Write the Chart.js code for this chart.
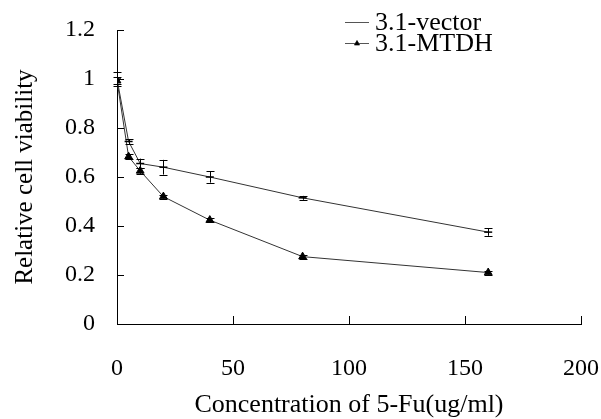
<!DOCTYPE html>
<html>
<head>
<meta charset="utf-8">
<script src="https://cdn.jsdelivr.net/npm/chart.js@4.4.1/dist/chart.umd.min.js"></script>
<style>
  html, body { margin: 0; padding: 0; background: #fff; }
</style>
</head>
<body>
<canvas id="chart" width="601" height="419"></canvas>
<script>
// Data
let concentrations = [0, 5, 10, 20, 40, 80, 160];
let vectorValues = [1.0, 0.745, 0.655, 0.64, 0.60, 0.515, 0.375];
let vectorErrors = [0.03, 0.01, 0.02, 0.03, 0.023, 0.008, 0.015];
let mtdhValues = [0.993, 0.683, 0.625, 0.52, 0.424, 0.275, 0.21];
let mtdhErrors = [0.015, 0.01, 0.012, 0.008, 0.008, 0.008, 0.008];
let seriesLabels = ["3.1-vector", "3.1-MTDH"];

let serif = "'Liberation Serif', 'Times New Roman', serif";

function toPoints(values) {
    return concentrations.map((x, i) => ({ x: x, y: values[i] }));
}

// Error bars
let errorBars = {
    id: "errorBars",
    afterDatasetsDraw(chart) {
        let ctx = chart.ctx;
        let xs = chart.scales.x;
        let ys = chart.scales.y;
        let errs = [vectorErrors, mtdhErrors];
        ctx.save();
        ctx.strokeStyle = "#000";
        ctx.lineWidth = 1;
        chart.data.datasets.forEach((ds, d) => {
            ds.data.forEach((p, i) => {
                let px = Math.round(xs.getPixelForValue(p.x)) + 0.5;
                let top = ys.getPixelForValue(p.y + errs[d][i]);
                let bot = ys.getPixelForValue(p.y - errs[d][i]);
                ctx.beginPath();
                ctx.moveTo(px, top);
                ctx.lineTo(px, bot);
                ctx.moveTo(px - 4, Math.round(top) + 0.5);
                ctx.lineTo(px + 4, Math.round(top) + 0.5);
                ctx.moveTo(px - 4, Math.round(bot) + 0.5);
                ctx.lineTo(px + 4, Math.round(bot) + 0.5);
                ctx.stroke();
            });
        });
        ctx.restore();
    }
};

// Inward tick marks
let innerTicks = {
    id: "innerTicks",
    afterDraw(chart) {
        let ctx = chart.ctx;
        let xs = chart.scales.x;
        let ys = chart.scales.y;
        let area = chart.chartArea;
        ctx.save();
        ctx.strokeStyle = "#000";
        ctx.lineWidth = 1;
        ctx.beginPath();
        ys.ticks.forEach(t => {
            let py = Math.round(ys.getPixelForValue(t.value)) + 0.5;
            ctx.moveTo(area.left, py);
            ctx.lineTo(area.left + 7, py);
        });
        xs.ticks.forEach(t => {
            if (t.value === 0) return;
            let px = Math.round(xs.getPixelForValue(t.value)) + 0.5;
            ctx.moveTo(px, area.bottom);
            ctx.lineTo(px, area.bottom - 8);
        });
        ctx.stroke();
        ctx.restore();
    }
};

// Legend in the top right
let cornerLegend = {
    id: "cornerLegend",
    afterDraw(chart) {
        let ctx = chart.ctx;
        ctx.save();
        ctx.font = "26px " + serif;
        ctx.textBaseline = "middle";
        ctx.fillStyle = "#000";
        let rows = [22, 43];
        chart.data.datasets.forEach((ds, i) => {
            let y = rows[i] + 0.5;
            ctx.strokeStyle = "#555";
            ctx.lineWidth = 1;
            ctx.beginPath();
            ctx.moveTo(345, y);
            ctx.lineTo(369, y);
            ctx.stroke();
            Chart.helpers.drawPoint(ctx, {
                pointStyle: ds.pointStyle,
                radius: 3,
                borderWidth: 1
            }, 357, y);
            ctx.fillStyle = "#000";
            ctx.strokeStyle = "#000";
            if (ds.pointStyle === "triangle") ctx.fill();
            ctx.fillText(ds.label, 375, rows[i] + 1);
        });
        ctx.restore();
    }
};

let chart = new Chart(document.getElementById("chart"), {
    type: "line",
    data: {
        datasets: [
            {
                label: seriesLabels[0],
                data: toPoints(vectorValues),
                borderColor: "#333",
                borderWidth: 1,
                pointStyle: "line",
                pointRadius: 4,
                pointBorderColor: "#000",
                pointBorderWidth: 1.5,
                pointBackgroundColor: "#000",
                tension: 0
            },
            {
                label: seriesLabels[1],
                data: toPoints(mtdhValues),
                borderColor: "#333",
                borderWidth: 1,
                pointStyle: "triangle",
                pointRadius: 4.5,
                pointBorderColor: "#000",
                pointBorderWidth: 1,
                pointBackgroundColor: "#000",
                tension: 0
            }
        ]
    },
    options: {
        responsive: false,
        animation: false,
        devicePixelRatio: 1,
        layout: { padding: { top: 30, right: 20, left: 0, bottom: 0 } },
        plugins: {
            legend: { display: false },
            tooltip: { enabled: false }
        },
        scales: {
            x: {
                type: "linear",
                min: 0,
                max: 200,
                afterFit(scale) {
                    scale.height = 95;
                    scale.paddingLeft = 0;
                    scale.paddingRight = 0;
                },
                ticks: {
                    stepSize: 50,
                    color: "#000",
                    padding: 30,
                    font: { family: serif, size: 24 }
                },
                grid: { drawOnChartArea: false, drawTicks: false },
                border: { color: "#000", width: 1 },
                title: {
                    display: true,
                    text: "Concentration of 5-Fu(ug/ml)",
                    color: "#000",
                    font: { family: serif, size: 26 },
                    padding: { top: 0, bottom: -2 }
                }
            },
            y: {
                min: 0,
                max: 1.2,
                afterFit(scale) {
                    scale.width = 117;
                    scale.paddingTop = 0;
                    scale.paddingBottom = 0;
                },
                ticks: {
                    stepSize: 0.2,
                    color: "#000",
                    padding: 22,
                    font: { family: serif, size: 24 },
                    callback: v => Number(v.toFixed(1)).toString()
                },
                grid: { drawOnChartArea: false, drawTicks: false },
                border: { color: "#000", width: 1 },
                title: {
                    display: true,
                    text: "Relative cell viability",
                    color: "#000",
                    font: { family: serif, size: 25 },
                    padding: { top: 10, bottom: 0 }
                }
            }
        }
    },
    plugins: [errorBars, innerTicks, cornerLegend]
});
</script>
</body>
</html>
